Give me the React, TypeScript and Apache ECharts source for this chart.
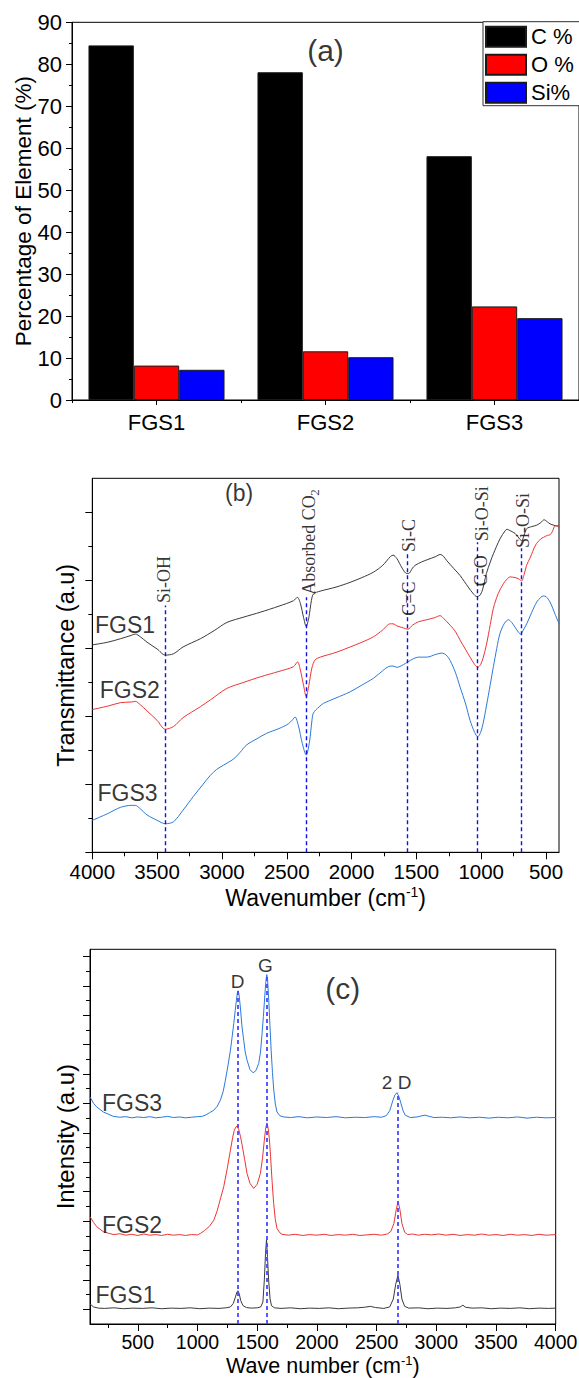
import React, { useEffect, useRef } from 'react';
import * as echarts from 'echarts';

const SANS = "'Liberation Sans', Arial, Helvetica, sans-serif";
const SERIF = "'Liberation Serif', 'Times New Roman', serif";

// ---------- (a) element percentages ----------
const samples = ['FGS1', 'FGS2', 'FGS3'];
const carbonPct = [84.5, 78.1, 58.1];
const oxygenPct = [8.2, 11.6, 22.3];
const siliconPct = [7.2, 10.2, 19.5];

// ---------- (b) FTIR [wavenumber, transmittance a.u.] ----------
const ftirXMajor = [500, 1000, 1500, 2000, 2500, 3000, 3500, 4000];
const ftirXMinor = [750, 1250, 1750, 2250, 2750, 3250, 3750];
const ftirYMajor = [0, 1, 2, 3, 4, 5];
const ftirYMinor = [0.5, 1.5, 2.5, 3.5, 4.5];

const ftirFGS1 = [
  [4000, 3.05], [3880, 3.09], [3784, 3.14], [3700, 3.19], [3668, 3.21], [3630, 3.17], [3578, 3.09],
  [3500, 2.99], [3437, 2.9], [3373, 2.92], [3300, 3.02], [3167, 3.14], [3060, 3.26], [2962, 3.38],
  [2830, 3.46], [2705, 3.53], [2560, 3.62], [2448, 3.7], [2418, 3.75], [2395, 3.66], [2370, 3.45],
  [2350, 3.32], [2330, 3.45], [2310, 3.7], [2294, 3.8], [2243, 3.84], [2120, 3.9], [2011, 3.97],
  [1920, 4.04], [1831, 4.12], [1760, 4.22], [1700, 4.35], [1680, 4.37], [1651, 4.32], [1610, 4.18],
  [1575, 4.1], [1560, 4.1], [1530, 4.18], [1510, 4.22], [1460, 4.27], [1420, 4.3], [1350, 4.35],
  [1317, 4.38], [1290, 4.35], [1266, 4.29], [1210, 4.17], [1163, 4.07], [1100, 3.9], [1060, 3.8],
  [1034, 3.76], [1010, 3.78], [990, 3.86], [960, 4.1], [930, 4.27], [906, 4.39], [855, 4.61],
  [815, 4.73], [800, 4.75], [777, 4.73], [739, 4.69], [700, 4.6], [687, 4.58], [670, 4.66],
  [649, 4.76], [610, 4.79], [572, 4.81], [540, 4.85], [515, 4.89], [490, 4.86], [469, 4.83],
  [440, 4.81], [418, 4.8], [400, 4.8],
];
const ftirFGS2 = [
  [4000, 2.1], [3880, 2.15], [3784, 2.2], [3700, 2.21], [3668, 2.22], [3630, 2.17], [3578, 2.08],
  [3500, 1.94], [3437, 1.81], [3373, 1.85], [3300, 1.98], [3167, 2.14], [3090, 2.24], [2962, 2.41],
  [2830, 2.5], [2705, 2.58], [2560, 2.66], [2448, 2.73], [2417, 2.8], [2395, 2.68], [2370, 2.45],
  [2350, 2.29], [2330, 2.45], [2305, 2.72], [2281, 2.83], [2242, 2.87], [2120, 2.94], [2011, 3.02],
  [1920, 3.09], [1831, 3.17], [1760, 3.27], [1703, 3.36], [1680, 3.36], [1651, 3.33], [1600, 3.3],
  [1566, 3.28], [1530, 3.34], [1484, 3.39], [1420, 3.42], [1360, 3.45], [1317, 3.48], [1290, 3.44],
  [1240, 3.34], [1200, 3.25], [1163, 3.12], [1120, 2.98], [1086, 2.87], [1050, 2.76], [1027, 2.72],
  [1005, 2.76], [985, 2.86], [960, 3.05], [930, 3.35], [906, 3.59], [870, 3.8], [829, 3.95],
  [800, 4.02], [777, 4.05], [739, 4.04], [710, 4.02], [688, 3.99], [670, 4.08], [650, 4.22],
  [623, 4.33], [580, 4.52], [540, 4.61], [521, 4.63], [490, 4.66], [469, 4.67], [450, 4.72],
  [431, 4.8], [415, 4.8], [400, 4.77],
];
const ftirFGS3 = [
  [4000, 0.47], [3880, 0.57], [3784, 0.66], [3700, 0.69], [3668, 0.69], [3630, 0.64], [3578, 0.55],
  [3500, 0.47], [3437, 0.42], [3373, 0.45], [3300, 0.62], [3221, 0.82], [3150, 0.99], [3090, 1.13],
  [3040, 1.22], [2989, 1.28], [2912, 1.37], [2860, 1.47], [2809, 1.58], [2730, 1.67], [2655, 1.75],
  [2560, 1.82], [2487, 1.89], [2455, 1.95], [2436, 1.99], [2410, 1.86], [2380, 1.6], [2350, 1.43],
  [2325, 1.62], [2305, 1.95], [2294, 2.05], [2250, 2.14], [2217, 2.19], [2120, 2.27], [2011, 2.36],
  [1920, 2.46], [1831, 2.56], [1760, 2.67], [1716, 2.73], [1680, 2.74], [1651, 2.72], [1600, 2.76],
  [1566, 2.8], [1520, 2.85], [1484, 2.87], [1420, 2.87], [1350, 2.91], [1304, 2.93], [1270, 2.9],
  [1240, 2.82], [1200, 2.65], [1163, 2.43], [1120, 2.18], [1086, 1.94], [1050, 1.76], [1027, 1.7],
  [1005, 1.76], [985, 1.9], [960, 2.15], [930, 2.47], [906, 2.73], [880, 3.0], [855, 3.22],
  [820, 3.37], [790, 3.42], [765, 3.38], [739, 3.31], [710, 3.23], [695, 3.21], [675, 3.27],
  [649, 3.36], [610, 3.53], [572, 3.68], [540, 3.75], [521, 3.77], [500, 3.76], [469, 3.68],
  [430, 3.5], [400, 3.36],
];
// band marker lines: [wavenumber, top]
const ftirBands = [[3437, 3.63], [2346, 3.75], [1567, 4.41], [1027, 4.56], [688, 4.47]];
// rotated band labels: [text, wavenumber, y, fontSize]
const ftirBandLabels: [string, number, number, number][] = [
  ['Si-OH', 3445, 4.01, 18],
  ['Absorbed CO', 2328, 4.52, 18],
  ['2', 2285, 5.29, 13],
  ['C=C', 1555, 3.73, 18],
  ['Si-C', 1555, 4.66, 18],
  ['C-O', 1004, 4.14, 18],
  ['Si-O-Si', 996, 4.98, 18],
  ['Si-O-Si', 680, 4.88, 18],
];
const ftirTexts: [string, number, number, number][] = [
  ['(b)', 2868, 5.28, 23],
  ['FGS1', 3748, 3.34, 23],
  ['FGS2', 3711, 2.38, 23],
  ['FGS3', 3728, 0.87, 23],
];

// ---------- (c) Raman [wavenumber, intensity a.u.] ----------
const ramanXMajor = [500, 1000, 1500, 2000, 2500, 3000, 3500, 4000];
const ramanXMinor = [250, 750, 1250, 1750, 2250, 2750, 3250, 3750];
const ramanYMajor = [0.5, 1.5, 2.5, 3.5, 4.5, 5.5, 6.5, 7.5, 8.5, 9.5, 10.5, 11.5, 12.5];
const ramanYMinor = [1, 2, 3, 4, 5, 6, 7, 8, 9, 10, 11, 12];

const ramanFGS3 = [
  [100, 7.72], [130, 7.5], [156, 7.38], [211, 7.21], [295, 7.06], [350, 7.03], [400, 7.05], [450, 7.01],
  [500, 7.04], [550, 7.02], [600, 7.05], [650, 7.01], [700, 7.03], [750, 7.06], [800, 7.02], [850, 7.04],
  [900, 7.01], [950, 7.03], [1000, 7.05], [1040, 7.06], [1066, 7.1], [1100, 7.18], [1137, 7.27],
  [1165, 7.4], [1192, 7.61], [1215, 7.9], [1234, 8.29], [1256, 8.8], [1276, 9.31], [1290, 9.75],
  [1304, 10.22], [1316, 10.65], [1326, 11.01], [1334, 11.25], [1340, 11.33], [1348, 11.2], [1359, 10.78],
  [1372, 10.15], [1387, 9.65], [1400, 9.25], [1415, 8.97], [1440, 8.65], [1466, 8.54], [1490, 8.62],
  [1513, 8.86], [1528, 9.25], [1541, 9.88], [1552, 10.45], [1562, 11.05], [1572, 11.62], [1580, 11.88],
  [1587, 11.72], [1597, 11.0], [1607, 10.15], [1617, 9.31], [1628, 8.55], [1639, 7.95], [1652, 7.48],
  [1666, 7.21], [1690, 7.08], [1722, 7.04], [1780, 7.02], [1850, 7.05], [1920, 7.01], [2000, 7.04],
  [2080, 7.02], [2160, 7.05], [2240, 7.01], [2320, 7.03], [2400, 7.02], [2480, 7.05], [2540, 7.03],
  [2580, 7.08], [2610, 7.25], [2637, 7.61], [2655, 7.8], [2671, 7.86], [2688, 7.72], [2704, 7.5],
  [2722, 7.25], [2740, 7.1], [2782, 7.02], [2840, 7.04], [2880, 7.08], [2907, 7.1], [2940, 7.06],
  [2980, 7.02], [3050, 7.03], [3120, 7.01], [3200, 7.04], [3280, 7.01], [3360, 7.03], [3440, 7.0],
  [3520, 7.03], [3600, 7.01], [3680, 7.04], [3760, 7.0], [3840, 7.03], [3920, 7.01], [4000, 7.02],
];
const ramanFGS2 = [
  [100, 3.65], [130, 3.45], [156, 3.31], [211, 3.14], [260, 3.08], [300, 3.04], [350, 3.07], [400, 3.02],
  [450, 3.05], [500, 3.01], [550, 3.06], [600, 3.02], [650, 3.04], [700, 3.01], [750, 3.05], [800, 3.02],
  [850, 3.04], [900, 3.01], [950, 3.04], [1000, 3.03], [1025, 3.08], [1060, 3.18], [1100, 3.32],
  [1137, 3.53], [1165, 3.85], [1195, 4.3], [1220, 4.67], [1250, 5.3], [1276, 5.91], [1295, 6.35],
  [1309, 6.59], [1322, 6.7], [1332, 6.73], [1345, 6.62], [1360, 6.38], [1374, 6.08], [1395, 5.6],
  [1415, 5.12], [1440, 4.78], [1471, 4.61], [1500, 4.75], [1527, 5.12], [1545, 5.65], [1560, 6.25],
  [1572, 6.68], [1582, 6.84], [1592, 6.65], [1602, 6.3], [1612, 5.7], [1625, 4.85], [1638, 4.1],
  [1652, 3.55], [1666, 3.25], [1690, 3.1], [1708, 3.05], [1760, 3.02], [1820, 3.05], [1880, 3.01],
  [1940, 3.04], [2000, 3.02], [2060, 3.05], [2120, 3.01], [2180, 3.04], [2240, 3.02], [2300, 3.05],
  [2360, 3.01], [2420, 3.03], [2480, 3.05], [2540, 3.02], [2590, 3.06], [2620, 3.15], [2645, 3.42],
  [2665, 3.9], [2680, 4.16], [2695, 3.9], [2712, 3.42], [2735, 3.12], [2760, 3.04], [2800, 3.06],
  [2850, 3.02], [2900, 3.05], [2960, 3.03], [3020, 3.06], [3080, 3.02], [3140, 3.05], [3200, 3.01],
  [3260, 3.04], [3320, 3.02], [3380, 3.06], [3440, 3.02], [3500, 3.04], [3560, 3.01], [3620, 3.05],
  [3680, 3.02], [3740, 3.04], [3800, 3.01], [3860, 3.05], [3920, 3.02], [4000, 3.04],
];
const ramanFGS1 = [
  [100, 0.68], [130, 0.58], [170, 0.54], [220, 0.53], [300, 0.55], [380, 0.52], [460, 0.54], [540, 0.53],
  [620, 0.55], [700, 0.52], [780, 0.54], [860, 0.53], [940, 0.55], [1020, 0.52], [1100, 0.54],
  [1180, 0.53], [1240, 0.55], [1276, 0.58], [1300, 0.7], [1318, 0.92], [1332, 1.1], [1340, 1.13],
  [1350, 1.02], [1362, 0.8], [1380, 0.63], [1410, 0.56], [1450, 0.54], [1500, 0.55], [1530, 0.58],
  [1548, 0.75], [1560, 1.5], [1570, 2.4], [1578, 2.88], [1586, 2.3], [1596, 1.5], [1608, 0.85],
  [1620, 0.62], [1645, 0.55], [1700, 0.53], [1780, 0.55], [1860, 0.52], [1940, 0.54], [2020, 0.53],
  [2100, 0.55], [2180, 0.52], [2260, 0.54], [2340, 0.55], [2400, 0.57], [2447, 0.6], [2490, 0.56],
  [2560, 0.53], [2610, 0.58], [2640, 0.85], [2660, 1.35], [2679, 1.66], [2695, 1.35], [2712, 0.85],
  [2735, 0.6], [2770, 0.54], [2850, 0.55], [2930, 0.52], [3010, 0.54], [3090, 0.53], [3160, 0.55],
  [3200, 0.58], [3223, 0.64], [3245, 0.57], [3300, 0.54], [3380, 0.55], [3460, 0.52], [3540, 0.54],
  [3620, 0.53], [3700, 0.55], [3780, 0.52], [3860, 0.54], [3940, 0.53], [4000, 0.54],
];
const ramanBands = [[1340, 11.33], [1582, 11.88], [2679, 7.86]];
const ramanTexts: [string, number, number, number][] = [
  ['D', 1337, 11.63, 19],
  ['G', 1569, 12.2, 19],
  ['2 D', 2668, 8.21, 19],
  ['(c)', 2216, 11.42, 30],
  ['FGS3', 452, 7.5, 23],
  ['FGS2', 452, 3.36, 23],
  ['FGS1', 397, 0.99, 23],
];
const panelATexts: [string, string, number, number][] = [['(a)', 'FGS2', 83.2, 30]];

const BLACK = '#000';
const C_FGS1 = '#3a3a3a';
const C_FGS2 = '#ee3434';
const C_FGS3 = '#2a79dc';

const plainNumber = (v: number) => String(v);

function textSeries(
  xAxisIndex: number,
  yAxisIndex: number,
  items: [string, any, number, number][],
  family: string,
  rotate: number
) {
  return {
    type: 'scatter',
    xAxisIndex,
    yAxisIndex,
    silent: true,
    symbolSize: 0,
    z: 20,
    animation: false,
    data: items.map(([t, x, y, fs]) => ({
      name: t,
      value: [x, y],
      label: { fontSize: fs },
    })),
    label: {
      show: true,
      position: 'inside',
      formatter: '{b}',
      color: BLACK,
      fontFamily: family,
      rotate,
      align: 'center',
      verticalAlign: 'middle',
    },
  };
}

const axisLine = { show: true, lineStyle: { color: BLACK, width: 1 } };

function buildOption() {
  const gridCommon = {
    show: true,
    borderColor: BLACK,
    borderWidth: 1,
    backgroundColor: 'transparent',
    containLabel: false,
    outerBoundsMode: 'none',
  };
  return {
    animation: false,
    backgroundColor: '#fff',
    textStyle: { fontFamily: SANS },
    grid: [
      { ...gridCommon, left: 72, top: 22.3, width: 507, height: 377.7 },
      { ...gridCommon, left: 92.3, top: 478.3, width: 466.7, height: 374 },
      { ...gridCommon, left: 90, top: 949.3, width: 465.7, height: 374.7 },
    ],
    legend: {
      data: ['C %', 'O %', 'Si%'],
      orient: 'vertical',
      left: 483,
      top: 21.7,
      padding: [4, 24, 2, 2],
      itemGap: 6,
      itemWidth: 40,
      itemHeight: 20,
      icon: 'rect',
      backgroundColor: '#fff',
      borderColor: '#333',
      borderWidth: 1,
      borderRadius: 0,
      selectedMode: false,
      textStyle: { fontSize: 22, color: BLACK, fontFamily: SANS },
    },
    xAxis: [
      {
        gridIndex: 0,
        type: 'category',
        data: samples,
        position: 'bottom',
        axisLine,
        axisTick: { show: true, alignWithLabel: true, length: 5, lineStyle: { color: BLACK } },
        axisLabel: { fontSize: 22, color: BLACK, margin: 11, fontFamily: SANS },
        splitLine: { show: false },
      },
      {
        gridIndex: 0,
        type: 'category',
        data: samples,
        position: 'bottom',
        axisLine: { show: false },
        axisTick: { show: true, length: 3, lineStyle: { color: BLACK } },
        axisLabel: { show: false },
        splitLine: { show: false },
      },
      {
        gridIndex: 1,
        type: 'value',
        inverse: true,
        min: 400,
        max: 4000,
        position: 'bottom',
        axisLine,
        axisTick: { show: true, customValues: ftirXMajor, length: 7, lineStyle: { color: BLACK } },
        axisLabel: {
          customValues: ftirXMajor,
          formatter: plainNumber,
          fontSize: 20.5,
          color: BLACK,
          margin: 9,
          fontFamily: SANS,
        },
        splitLine: { show: false },
        name: 'Wavenumber (cm{sup|-1})',
        nameLocation: 'middle',
        nameGap: 33,
        nameMoveOverlap: false,
        nameTextStyle: {
          fontSize: 23,
          color: BLACK,
          fontFamily: SANS,
          rich: { sup: { fontSize: 14, color: BLACK, fontFamily: SANS, padding: [0, 0, 12, 0] } },
        },
      },
      {
        gridIndex: 1,
        type: 'value',
        inverse: true,
        min: 400,
        max: 4000,
        position: 'bottom',
        axisLine: { show: false },
        axisTick: { show: true, customValues: ftirXMinor, length: 4, lineStyle: { color: BLACK } },
        axisLabel: { show: false },
        splitLine: { show: false },
      },
      {
        gridIndex: 2,
        type: 'value',
        min: 100,
        max: 4000,
        position: 'bottom',
        axisLine,
        axisTick: { show: true, customValues: ramanXMajor, length: 7, lineStyle: { color: BLACK } },
        axisLabel: {
          customValues: ramanXMajor,
          formatter: plainNumber,
          fontSize: 19.5,
          color: BLACK,
          margin: 8,
          fontFamily: SANS,
        },
        splitLine: { show: false },
        name: 'Wave number (cm{sup|-1})',
        nameLocation: 'middle',
        nameGap: 31.5,
        nameMoveOverlap: false,
        nameTextStyle: {
          fontSize: 21.5,
          lineHeight: 20,
          color: BLACK,
          fontFamily: SANS,
          rich: {
            sup: { fontSize: 13, lineHeight: 10, color: BLACK, fontFamily: SANS, padding: [0, 0, 10, 0] },
          },
        },
      },
      {
        gridIndex: 2,
        type: 'value',
        min: 100,
        max: 4000,
        position: 'bottom',
        axisLine: { show: false },
        axisTick: { show: true, customValues: ramanXMinor, length: 4, lineStyle: { color: BLACK } },
        axisLabel: { show: false },
        splitLine: { show: false },
      },
    ],
    yAxis: [
      {
        gridIndex: 0,
        type: 'value',
        min: 0,
        max: 90,
        interval: 10,
        position: 'left',
        axisLine,
        axisTick: { show: true, length: 6, lineStyle: { color: BLACK } },
        minorTick: { show: true, splitNumber: 2, length: 3, lineStyle: { color: BLACK } },
        axisLabel: { fontSize: 22, color: BLACK, margin: 10, fontFamily: SANS },
        splitLine: { show: false },
        minorSplitLine: { show: false },
        name: 'Percentage of Element (%)',
        nameLocation: 'middle',
        nameGap: 37,
        nameMoveOverlap: false,
        nameTextStyle: { fontSize: 22.5, color: BLACK, fontFamily: SANS },
      },
      {
        gridIndex: 1,
        type: 'value',
        min: 0,
        max: 5.5,
        position: 'left',
        axisLine,
        axisTick: { show: true, customValues: ftirYMajor, length: 7, lineStyle: { color: BLACK } },
        axisLabel: { show: false },
        splitLine: { show: false },
        name: 'Transmittance (a.u)',
        nameLocation: 'middle',
        nameGap: 14,
        nameMoveOverlap: false,
        nameTextStyle: { fontSize: 23.5, color: BLACK, fontFamily: SANS },
      },
      {
        gridIndex: 1,
        type: 'value',
        min: 0,
        max: 5.5,
        position: 'left',
        axisLine: { show: false },
        axisTick: { show: true, customValues: ftirYMinor, length: 4, lineStyle: { color: BLACK } },
        axisLabel: { show: false },
        splitLine: { show: false },
      },
      {
        gridIndex: 2,
        type: 'value',
        min: 0,
        max: 12.74,
        position: 'left',
        axisLine,
        axisTick: { show: true, customValues: ramanYMajor, length: 7, lineStyle: { color: BLACK } },
        axisLabel: { show: false },
        splitLine: { show: false },
        name: 'Intensity (a.u)',
        nameLocation: 'middle',
        nameGap: 13,
        nameMoveOverlap: false,
        nameTextStyle: { fontSize: 24, color: BLACK, fontFamily: SANS },
      },
      {
        gridIndex: 2,
        type: 'value',
        min: 0,
        max: 12.74,
        position: 'left',
        axisLine: { show: false },
        axisTick: { show: true, customValues: ramanYMinor, length: 4, lineStyle: { color: BLACK } },
        axisLabel: { show: false },
        splitLine: { show: false },
      },
    ],
    series: [
      // (a)
      ...[
        ['C %', carbonPct, '#000000'],
        ['O %', oxygenPct, '#ff0000'],
        ['Si%', siliconPct, '#0000ff'],
      ].map(([name, vals, color]) => ({
        type: 'bar',
        name,
        xAxisIndex: 0,
        yAxisIndex: 0,
        data: vals,
        barGap: '0%',
        barCategoryGap: '19.5%',
        itemStyle: { color, borderColor: '#1a1a1a', borderWidth: 1 },
        silent: true,
      })),
      textSeries(0, 0, panelATexts, SANS, 0),
      // (b)
      {
        type: 'line',
        name: 'FTIR FGS1',
        xAxisIndex: 2,
        yAxisIndex: 1,
        data: ftirFGS1,
        showSymbol: false,
        smooth: 0.3,
        lineStyle: { color: C_FGS1, width: 1 },
        silent: true,
        markLine: {
          silent: true,
          symbol: ['none', 'none'],
          label: { show: false },
          lineStyle: { color: '#1010e8', type: [4, 3], width: 1.4 },
          data: ftirBands.map(([wn, top]) => [{ coord: [wn, 0] }, { coord: [wn, top] }]),
        },
      },
      {
        type: 'line',
        name: 'FTIR FGS2',
        xAxisIndex: 2,
        yAxisIndex: 1,
        data: ftirFGS2,
        showSymbol: false,
        smooth: 0.3,
        lineStyle: { color: C_FGS2, width: 1 },
        silent: true,
      },
      {
        type: 'line',
        name: 'FTIR FGS3',
        xAxisIndex: 2,
        yAxisIndex: 1,
        data: ftirFGS3,
        showSymbol: false,
        smooth: 0.3,
        lineStyle: { color: C_FGS3, width: 1 },
        silent: true,
      },
      textSeries(2, 1, ftirBandLabels, SERIF, 90),
      textSeries(2, 1, ftirTexts, SANS, 0),
      // (c)
      {
        type: 'line',
        name: 'Raman FGS1',
        xAxisIndex: 4,
        yAxisIndex: 3,
        data: ramanFGS1,
        showSymbol: false,
        lineStyle: { color: C_FGS1, width: 1 },
        silent: true,
        markLine: {
          silent: true,
          symbol: ['none', 'none'],
          label: { show: false },
          lineStyle: { color: '#4747ff', type: [4, 3], width: 1.8 },
          data: ramanBands.map(([wn, top]) => [{ coord: [wn, 0] }, { coord: [wn, top] }]),
        },
      },
      {
        type: 'line',
        name: 'Raman FGS2',
        xAxisIndex: 4,
        yAxisIndex: 3,
        data: ramanFGS2,
        showSymbol: false,
        lineStyle: { color: C_FGS2, width: 1 },
        silent: true,
      },
      {
        type: 'line',
        name: 'Raman FGS3',
        xAxisIndex: 4,
        yAxisIndex: 3,
        data: ramanFGS3,
        showSymbol: false,
        lineStyle: { color: C_FGS3, width: 1 },
        silent: true,
      },
      textSeries(4, 3, ramanTexts, SANS, 0),
    ],
  };
}

export default function App() {
  const ref = useRef<HTMLDivElement>(null);
  useEffect(() => {
    if (!ref.current) return;
    const chart = echarts.init(ref.current, undefined, { renderer: 'svg' });
    chart.setOption(buildOption() as any);
    return () => chart.dispose();
  }, []);
  return (
    <div
      ref={ref}
      style={{ position: 'absolute', left: 0, top: 0, width: 579, height: 1378, background: '#fff' }}
    />
  );
}
